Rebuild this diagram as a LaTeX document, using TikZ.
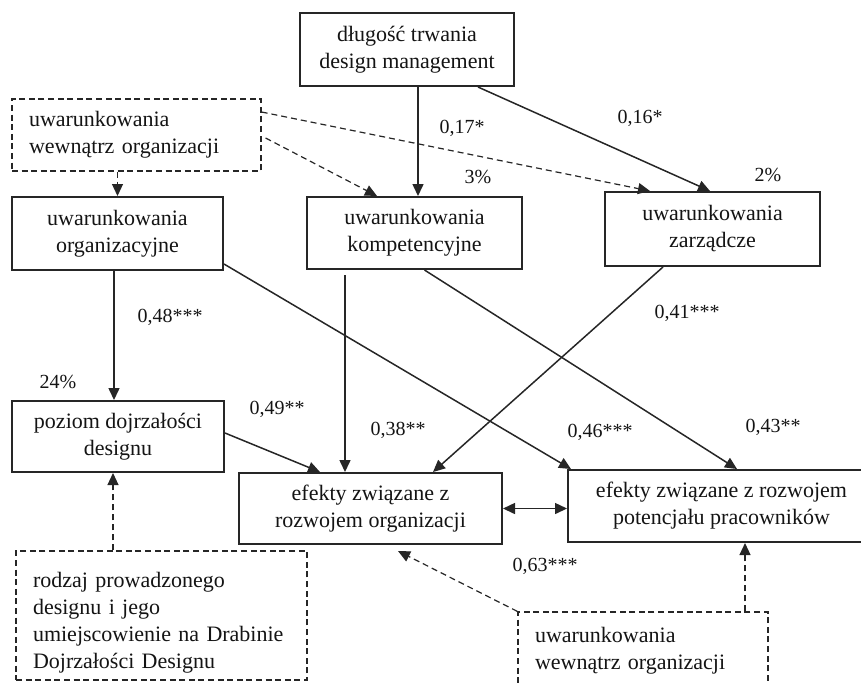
\documentclass[tikz,border=0pt]{standalone}
\usepackage{fontspec}
\setmainfont{Liberation Serif}
\usepackage{xcolor}
\usetikzlibrary{arrows.meta, positioning, calc}
\definecolor{ink}{gray}{0.15}
\tikzset{
  factor/.style={
    rectangle, draw=ink, line width=1pt,
    fill=white, text=black!92,
    align=center, inner sep=0pt,
    font=\fontsize{11}{13.5}\selectfont
  },
  context/.style={
    rectangle, draw=ink, line width=0.6pt,
    dash pattern=on 3pt off 1.8pt,
    fill=white, text=black!92,
    align=left, inner xsep=8.5pt, inner ysep=0pt,
    font=\fontsize{11}{13.5}\selectfont
  },
  arr/.style={-{Triangle[length=6pt, width=5.5pt]}, line width=0.75pt, draw=ink},
  darr/.style={arr, line width=0.6pt, dash pattern=on 3pt off 2pt},
  coef/.style={font=\fontsize{10}{12}\selectfont, text=black!92, inner sep=0pt}
}

\begin{document}
\begin{tikzpicture}[x=0.5pt, y=-0.5pt]
  \useasboundingbox (0,0) rectangle (861,682);
  \clip (0,0) rectangle (861,682);

  % ---- Nodes ----
  \node[factor, minimum width=107pt, minimum height=36.5pt] (dlug) at (407,49.5)
    {długość trwania\\design management};

  \node[context, minimum width=124.5pt, minimum height=36pt, text width=107.5pt] (wew1) at (136.5,135)
    {uwarunkowania\\wewnątrz organizacji};

  \node[factor, minimum width=105.5pt, minimum height=36.5pt] (org)  at (117.5,233.5)
    {uwarunkowania\\organizacyjne};
  \node[factor, minimum width=107.5pt, minimum height=36pt]   (komp) at (414.5,233)
    {uwarunkowania\\kompetencyjne};
  \node[factor, minimum width=107.5pt, minimum height=37pt]   (zarz) at (712.5,229)
    {uwarunkowania\\zarządcze};

  \node[factor, minimum width=106pt, minimum height=35.5pt] (pozi) at (118,436.5)
    {poziom dojrzałości\\designu};

  \node[factor, minimum width=131.5pt, minimum height=35.5pt] (eorg) at (370.5,508.5)
    {efekty związane z\\rozwojem organizacji};
  \node[factor, minimum width=153.5pt, minimum height=36pt]   (epot) at (721.5,506)
    {efekty związane z rozwojem\\potencjału pracowników};

  \node[context, minimum width=145.5pt, minimum height=64.5pt, text width=128.5pt] (rodz) at (161.5,615.5)
    {\rule{0pt}{15pt}rodzaj prowadzonego\\designu i jego\\umiejscowienie na Drabinie\\Dojrzałości Designu};

  \node[context, minimum width=125pt, minimum height=39pt, text width=108pt] (wew2) at (643,651)
    {uwarunkowania\\wewnątrz organizacji};

  % ---- Coefficients ----
  \node[coef] (c17) at (462,128) {0,17*};
  \node[coef] (r3)  at (478,177) {3\%};
  \node[coef] (c16) at (640,118) {0,16*};
  \node[coef] (r2)  at (768,175) {2\%};
  \node[coef] (c48) at (170,317) {0,48***};
  \node[coef] (r24) at (58,382)  {24\%};
  \node[coef] (c49) at (277,409) {0,49**};
  \node[coef] (c38) at (398,430) {0,38**};
  \node[coef] (c41) at (687,313) {0,41***};
  \node[coef] (c46) at (600,432) {0,46***};
  \node[coef] (c43) at (773,427) {0,43**};
  \node[coef] (c63) at (545,566) {0,63***};

  % ---- Arrows ----
  \draw[arr] ([xshift=1.75pt]komp.north |- dlug.south) -- ([xshift=1.75pt]komp.north);
  \draw[arr] ([xshift=35.5pt]dlug.south) -- ([xshift=-1.25pt]zarz.north);

  \draw[darr] (org.north |- wew1.south) -- (org.north);
  \draw[darr] ([xshift=2pt, yshift=-1.5pt]wew1.east) -- ([xshift=-18.75pt]komp.north);
  \draw[darr] ([yshift=11.5pt]wew1.east) -- ([xshift=-31.25pt]zarz.north);

  \draw[arr] ([xshift=-1.75pt]org.south) -- ([xshift=-1.75pt]org.south |- pozi.north);
  \draw[arr] ([yshift=3.5pt]org.south east) -- ([xshift=2pt]epot.north west);

  \draw[arr] ([xshift=-34.75pt, yshift=-2.5pt]komp.south) -- ([xshift=-34.75pt]komp.south |- eorg.north);
  \draw[arr] ([xshift=5pt]komp.south) -- ([xshift=7.75pt]epot.north);
  \draw[arr] ([xshift=-24.75pt]zarz.south) -- ([xshift=31.25pt]eorg.north);

  \draw[arr] ([yshift=1.75pt]pozi.east) -- ([xshift=-25.25pt]eorg.north);
  \draw[arr, {Triangle[length=6pt, width=5.5pt]}-{Triangle[length=6pt, width=5.5pt]}]
    (eorg.east) -- (eorg.east -| epot.west);

  \draw[darr] (wew2.north west) -- ([xshift=13.75pt, yshift=-3pt]eorg.south);
  \draw[darr] ([xshift=11.75pt]epot.south |- wew2.north) -- ([xshift=11.75pt]epot.south);
  \draw[darr] ([xshift=-2.5pt]pozi.south |- rodz.north) -- ([xshift=-2.5pt]pozi.south);

\end{tikzpicture}
\end{document}
